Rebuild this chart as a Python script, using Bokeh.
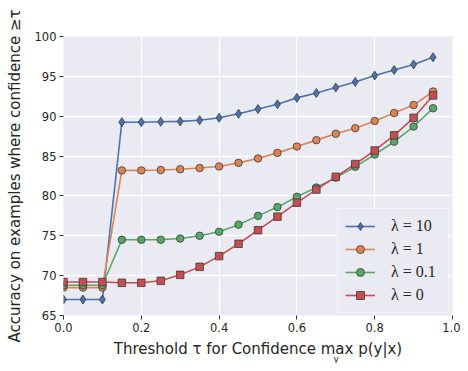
from bokeh.plotting import figure
from bokeh.models import Range1d, Legend, LegendItem, Title, FixedTicker
from bokeh.embed import file_html
from bokeh.resources import INLINE

thresholds = [0.0, 0.05, 0.1, 0.15, 0.2, 0.25, 0.3, 0.35, 0.4, 0.45,
              0.5, 0.55, 0.6, 0.65, 0.7, 0.75, 0.8, 0.85, 0.9, 0.95]
acc_lambda_10 = [67.0, 67.0, 67.0, 89.25, 89.25, 89.3, 89.35, 89.5, 89.8, 90.3,
                 90.9, 91.5, 92.3, 92.9, 93.6, 94.3, 95.1, 95.8, 96.5, 97.4]
acc_lambda_1 = [68.5, 68.5, 68.5, 83.2, 83.2, 83.25, 83.35, 83.5, 83.7, 84.15,
                84.7, 85.4, 86.2, 87.0, 87.8, 88.5, 89.4, 90.4, 91.4, 93.1]
acc_lambda_01 = [68.8, 68.8, 68.8, 74.5, 74.5, 74.5, 74.65, 75.0, 75.5, 76.4,
                 77.5, 78.6, 79.9, 81.05, 82.3, 83.65, 85.2, 86.8, 88.7, 91.0]
acc_lambda_0 = [69.2, 69.2, 69.2, 69.1, 69.1, 69.35, 70.1, 71.1, 72.45, 74.0,
                75.7, 77.4, 79.15, 80.8, 82.4, 84.0, 85.7, 87.6, 89.8, 92.6]
series_labels = ["λ = 10", "λ = 1", "λ = 0.1", "λ = 0"]
x_ticks = [0.0, 0.2, 0.4, 0.6, 0.8, 1.0]
y_ticks = [65, 70, 75, 80, 85, 90, 95, 100]

colors = ["#4C72B0", "#DD8452", "#55A868", "#C44E52"]
markers = ["diamond", "circle", "circle", "square"]
msizes = [9, 7.5, 7.5, 7.5]
series = [acc_lambda_10, acc_lambda_1, acc_lambda_01, acc_lambda_0]

TXT = "#262626"
FONT = "DejaVu Sans"

p = figure(width=460, height=363, output_backend="svg", toolbar_location=None,
           x_range=Range1d(0, 1), y_range=Range1d(65, 100),
           min_border_left=63, min_border_right=8, min_border_top=36,
           min_border_bottom=48)
p.background_fill_color = "#EAEAF2"
p.border_fill_color = "white"
p.outline_line_color = None

for g in (p.xgrid, p.ygrid):
    g.grid_line_color = "white"
    g.grid_line_width = 1.3
p.xgrid.ticker = FixedTicker(ticks=x_ticks)
p.ygrid.ticker = FixedTicker(ticks=y_ticks)

p.xaxis.ticker = FixedTicker(ticks=x_ticks)
p.yaxis.ticker = FixedTicker(ticks=y_ticks)
p.xaxis.major_label_overrides = {t: f"{t:.1f}" for t in x_ticks}

for ax in (p.xaxis[0], p.yaxis[0]):
    ax.axis_line_color = None
    ax.major_tick_in = 0
    ax.major_tick_out = 4
    ax.major_tick_line_color = "#333333"
    ax.minor_tick_line_color = None
    ax.major_label_text_font = FONT
    ax.major_label_text_font_size = "11.5px"
    ax.major_label_text_color = TXT
    ax.major_label_standoff = 3
    ax.axis_label_text_font = FONT
    ax.axis_label_text_font_size = "15px"
    ax.axis_label_text_font_style = "normal"
    ax.axis_label_text_color = TXT

p.xaxis.axis_label = "Threshold τ for Confidence max p(y|x)"
p.yaxis.axis_label = "Accuracy on examples where confidence ≥τ"
p.xaxis.axis_label_standoff = 5
p.yaxis.axis_label_standoff = 8

items = []
for vals, c, m, s, lab in zip(series, colors, markers, msizes, series_labels):
    lr = p.line(thresholds, vals, line_color=c, line_width=1.6)
    sr = p.scatter(thresholds, vals, marker=m, size=s, fill_color=c,
                   line_color="#3a3a3a", line_width=0.8)
    items.append(LegendItem(label=lab, renderers=[lr, sr]))

legend = Legend(items=items, location=(274, 2))
legend.background_fill_color = "#EAEAF2"
legend.background_fill_alpha = 1.0
legend.border_line_color = "white"
legend.border_line_width = 1.5
legend.label_text_font = "Liberation Serif"
legend.label_text_font_size = "16px"
legend.label_text_color = TXT
legend.glyph_width = 30
legend.glyph_height = 20
legend.label_height = 20
legend.label_width = 50
legend.label_standoff = 16
legend.spacing = 3
legend.padding = 7
legend.margin = 0
p.add_layout(legend)

sub = Title(text="y", align="left", offset=270, standoff=-14,
            vertical_align="top", text_font=FONT, text_font_size="9px",
            text_font_style="normal", text_color=TXT)
p.add_layout(sub, "below")

open("out.html", "w").write(file_html(p, INLINE))
